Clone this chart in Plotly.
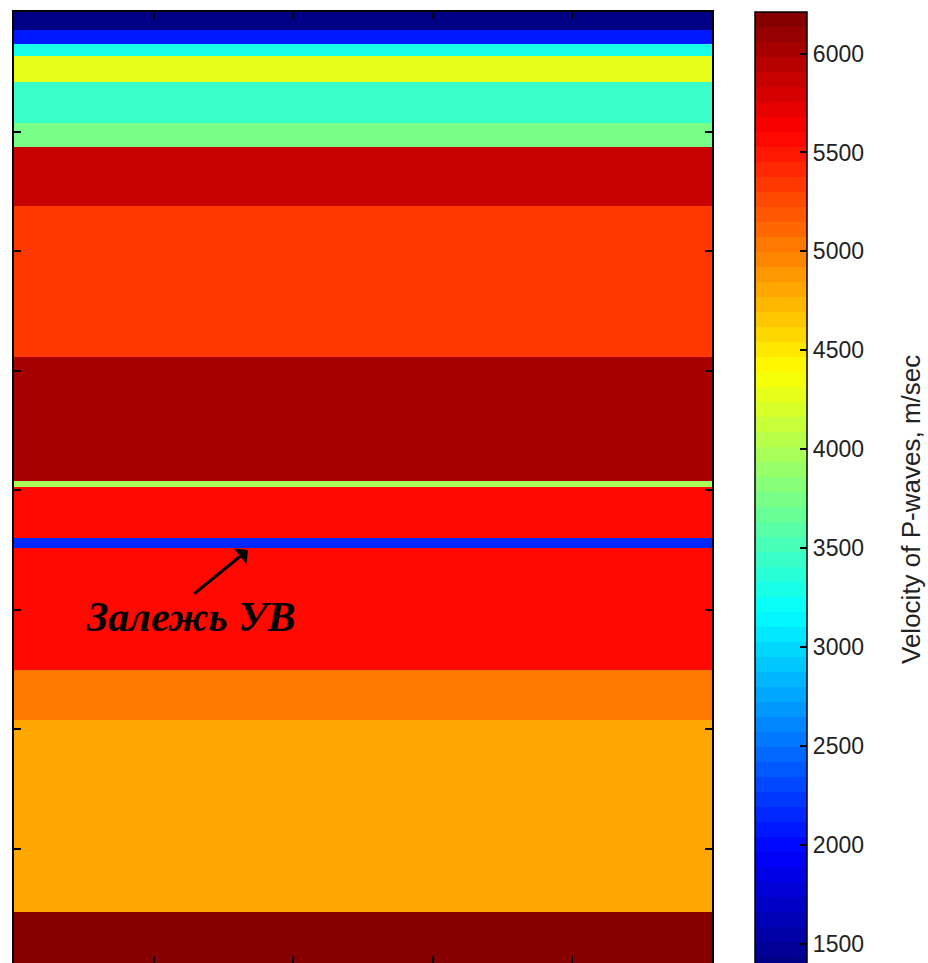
import plotly.graph_objects as go

# Layer boundaries (depth, m) and P-wave velocities (m/s)
depth_edges = [0, 75, 134, 184, 293, 464, 565, 812, 1444, 1962, 1987, 2201, 2243, 2753, 2962, 3766, 4100]
velocity = [1400, 2080, 3292, 4278, 3444, 3747, 5856, 5330, 5985, 3975, 5557, 2156, 5557, 5027, 4800, 6172]
x_edges = [0, 5000]
cbar_ticks = [1500, 2000, 2500, 3000, 3500, 4000, 4500, 5000, 5500, 6000]
x_ticks = [1000, 2000, 3000, 4000]
y_ticks = [500, 1000, 1500, 2000, 2500, 3000, 3500]
vmin, vmax = 1357, 6210

# MATLAB-style jet(64)
def jet64():
    cols = []
    n = 64
    for k in range(n):
        t = (k + 0.5) / n
        r = min(max(1.5 - abs(4 * t - 3), 0), 1)
        g = min(max(1.5 - abs(4 * t - 2), 0), 1)
        b = min(max(1.5 - abs(4 * t - 1), 0), 1)
        cols.append("rgb(%d,%d,%d)" % (round(r * 255), round(g * 255), round(b * 255)))
    scale = []
    for k, c in enumerate(cols):
        scale.append([k / n, c])
        scale.append([(k + 1) / n, c])
    return scale

fig = go.Figure()
fig.add_trace(go.Heatmap(
    z=[[v] for v in velocity],
    x=x_edges,
    y=depth_edges,
    zmin=vmin, zmax=vmax,
    colorscale=jet64(),
    zsmooth=False,
    hoverinfo="skip",
    colorbar=dict(
        x=(755 - 14) / 698, xanchor="left", xpad=0,
        y=1, yanchor="top", ypad=0,
        lenmode="pixels", len=960,
        thicknessmode="pixels", thickness=52,
        outlinecolor="black", outlinewidth=1.5,
        tickvals=cbar_ticks, ticks="inside", ticklen=7, tickcolor="black", tickwidth=1.5,
        tickfont=dict(family="Liberation Sans", size=23, color="#222"),
    ),
))

# Arrow
fig.add_annotation(x=1676, y=2251, ax=1282, ay=2439, xref="x", yref="y", axref="x", ayref="y",
                   text="", showarrow=True, arrowhead=1, arrowsize=1.1, arrowwidth=3,
                   arrowcolor="black", standoff=0)
fig.add_annotation(x=1267, y=2530, xref="x", yref="y", showarrow=False,
                   text="<b><i>Залежь УВ</i></b>",
                   font=dict(family="Liberation Serif", size=42, color="black"))

fig.add_annotation(x=(911 - 14) / 698, y=(963 - 510) / 951, xref="paper", yref="paper", showarrow=False,
                   text="Velocity of P-waves, m/sec", textangle=-90, xanchor="center", yanchor="middle",
                   font=dict(family="Liberation Sans", size=26, color="#222"))

fig.update_xaxes(range=[0, 5000], tickvals=x_ticks, ticks="inside", ticklen=7, tickcolor="black",
                 tickwidth=1.5, showticklabels=False, showline=True, linecolor="black", linewidth=1.5,
                 mirror="ticks", showgrid=False, zeroline=False)
fig.update_yaxes(range=[3979, 0], tickvals=y_ticks, ticks="inside", ticklen=7, tickcolor="black",
                 tickwidth=1.5, showticklabels=False, showline=True, linecolor="black", linewidth=1.5,
                 mirror="ticks", showgrid=False, zeroline=False)

fig.update_layout(width=928, height=963, margin=dict(l=14, r=216, t=12, b=0),
                  paper_bgcolor="white", plot_bgcolor="white", showlegend=False)
fig.write_html("out.html")
